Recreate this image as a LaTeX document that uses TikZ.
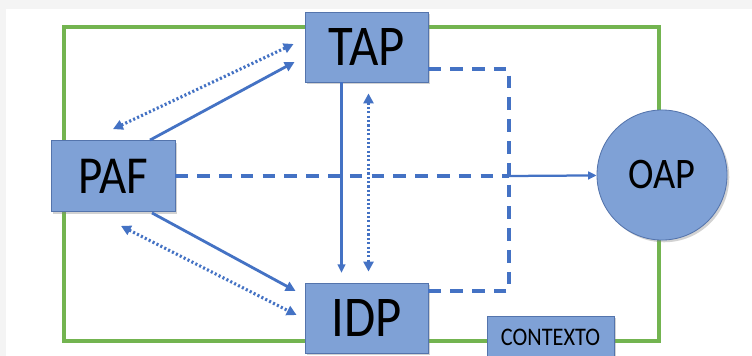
\documentclass[tikz,border=0pt]{standalone}
\usepackage{fontspec}
\setmainfont{Carlito}
\newfontfamily\narrowfont[FakeStretch=0.88]{Carlito}
\usetikzlibrary{backgrounds,calc,shadows,positioning,arrows.meta}
\definecolor{boxblue}{RGB}{127,161,214}
\definecolor{boxedge}{RGB}{84,116,172}
\definecolor{linkblue}{RGB}{68,114,196}
\definecolor{framegreen}{RGB}{115,180,80}
\tikzset{headtip/.tip={Triangle[length=7pt,width=7pt]},
  smalltip/.tip={Triangle[length=6pt,width=5.5pt]}}

\begin{document}
\begin{tikzpicture}[x=0.025cm,y=-0.025cm, % one unit = one pixel, y downwards
    box/.style={
      draw=boxedge,
      fill=boxblue,
      line width=0.6pt,
      inner sep=0pt,
      text=black,
      minimum width=3.075cm,
      minimum height=1.75cm,
      drop shadow={shadow xshift=1.6pt,shadow yshift=-1.6pt,opacity=0.35}
    },
    roundbox/.style={
      box,
      circle,
      minimum size=3.25cm
    },
    boxfont/.style={font=\narrowfont\fontsize{#1}{#1}\selectfont},
    solidlink/.style={draw=linkblue,line width=2pt,-headtip},
    thinlink/.style={draw=linkblue,line width=1.6pt,-smalltip},
    dotlink/.style={draw=linkblue,line width=2.2pt,
      dash pattern=on 1.5pt off 1.6pt,headtip-headtip},
    dashlink/.style={draw=linkblue,line width=2.4pt,
      dash pattern=on 9pt off 6.5pt},
    frame/.style={draw=framegreen,line width=2.6pt}
  ]

  \clip (0,0) rectangle (752,356);

  %% blocks
  \node[box,boxfont=41] (tap) at (366.5,47) {TAP};
  \node[box,boxfont=41] (idp) at (366.5,318) {IDP};
  \node[box,minimum width=3.1cm,minimum height=1.775cm,boxfont=38]
    (paf) at (113,176) {PAF};
  \node[roundbox,boxfont=31] (oap) at (662,175) {OAP};
  \node[box,minimum width=3.175cm,minimum height=1.05cm,boxfont=18]
    (contexto) at (550.5,337) {CONTEXTO};

  \coordinate (split) at (509,176);

  %% paf <-> tap
  \draw[dotlink] ($(paf.north)+(0,-11)$) -- ($(tap.west)+(-11,-3)$);
  \draw[solidlink] ($(paf.north)+(37,0)$) -- ($(tap.west)+(-10,15)$);

  %% paf <-> idp
  \draw[solidlink] ($(paf.south)+(39,1)$) -- ($(idp.west)+(-9,-27)$);
  \draw[dotlink] ($(paf.south)+(8,14)$) -- ($(idp.west)+(-8,-3)$);

  %% tap <-> idp
  \draw[thinlink,shorten >=7pt] ($(tap.south)+(-25,0)$) -- ($(idp.north)+(-25,0)$);
  \draw[dotlink] ($(tap.south)+(2,11)$) -- ($(idp.north)+(2,-11)$);

  %% dashed loop and the way out to oap
  \draw[dashlink] ($(tap.east)+(0,22)$) -| (split) |- ($(idp.east)+(0,-27)$);
  \draw[dashlink] (paf.east) -- (split);
  \draw[thinlink] (split) -- (oap);

  % page and green frame
  \begin{pgfonlayer}{background}
    \fill[gray!9] (0,0) rectangle (752,356);
    \fill[white] (6,9) rectangle (752,356);
    \draw[frame] (64,27) rectangle (659,341);
  \end{pgfonlayer}

\end{tikzpicture}
\end{document}
